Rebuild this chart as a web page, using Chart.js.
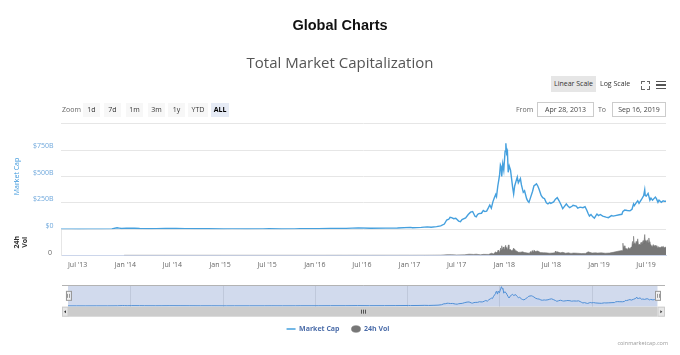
<!DOCTYPE html>
<html><head><meta charset="utf-8">
<script src="https://cdn.jsdelivr.net/npm/chart.js@4.4.1/dist/chart.umd.min.js"></script>
<style>
html,body{margin:0;padding:0;background:#fff;}
body{width:680px;height:355px;position:relative;overflow:hidden;font-family:"Open Sans",sans-serif;}
canvas{position:absolute;left:0;top:0;}
.abs{position:absolute;white-space:nowrap;}
#h1{left:0;width:680px;top:15px;text-align:center;font:bold 14.5px "Liberation Sans",Arial,sans-serif;color:#111;line-height:20px;}
#h2{left:0;width:680px;top:51px;text-align:center;font:15px "Open Sans",sans-serif;color:#555;line-height:22px;}
.btn{position:absolute;top:103px;height:14px;line-height:14px;font-size:7px;color:#333;background:#f7f7f7;text-align:center;}
.sel{background:#e6ebf5;font-weight:bold;color:#000;}
.lbl{position:absolute;top:103px;height:14px;line-height:14px;font-size:7px;color:#666;}
.inp{position:absolute;top:102px;height:13px;line-height:13px;font-size:7px;color:#444;border:1px solid #ccc;text-align:center;background:#fff;}
.cr{position:absolute;width:2.5px;height:2.5px;border-color:#666;border-style:solid;border-width:0;}
.hb{position:absolute;left:656px;width:10px;height:1.6px;background:#555;}
</style></head>
<body>
<canvas id="main" width="680" height="355"></canvas>
<canvas id="nav" width="680" height="355" style="pointer-events:none"></canvas>

<div class="abs" id="h1">Global Charts</div>
<div class="abs" id="h2">Total Market Capitalization</div>

<div class="abs" style="left:551px;top:76px;width:45px;height:16px;line-height:16px;background:#e6e6e6;font-size:7px;color:#333;text-align:center">Linear Scale</div>
<div class="abs" style="left:600px;top:76px;height:16px;line-height:16px;font-size:7px;color:#333">Log Scale</div>
<div class="cr" style="left:641px;top:80.5px;border-top-width:1px;border-left-width:1px"></div>
<div class="cr" style="left:646.5px;top:80.5px;border-top-width:1px;border-right-width:1px"></div>
<div class="cr" style="left:641px;top:86px;border-bottom-width:1px;border-left-width:1px"></div>
<div class="cr" style="left:646.5px;top:86px;border-bottom-width:1px;border-right-width:1px"></div>
<div class="hb" style="top:80.5px"></div>
<div class="hb" style="top:84px"></div>
<div class="hb" style="top:87.5px"></div>

<div class="lbl" style="left:62px">Zoom</div>
<div class="btn" style="left:83px;width:17px">1d</div>
<div class="btn" style="left:104px;width:17px">7d</div>
<div class="btn" style="left:126px;width:17px">1m</div>
<div class="btn" style="left:148px;width:17px">3m</div>
<div class="btn" style="left:168px;width:17px">1y</div>
<div class="btn" style="left:188px;width:20px">YTD</div>
<div class="btn sel" style="left:211px;width:18px">ALL</div>

<div class="lbl" style="left:516px">From</div>
<div class="inp" style="left:537px;width:55px">Apr 28, 2013</div>
<div class="lbl" style="left:598px">To</div>
<div class="inp" style="left:612px;width:52px">Sep 16, 2019</div>

<div class="abs" style="right:12px;top:339px;font-size:5.5px;color:#999;line-height:8px">coinmarketcap.com</div>

<script>
// ---------------- DATA ----------------
const rangeStart = '2013-04-28';
const rangeEnd = '2019-09-16';

// Total market capitalization, billions USD
const mcapDates = [
'2013-04-28','2013-06-01','2013-07-05','2013-08-20','2013-10-01','2013-11-10','2013-11-30','2013-12-08','2013-12-18',
'2014-01-05','2014-02-05','2014-02-25','2014-04-10','2014-05-01','2014-06-05','2014-07-15','2014-08-20','2014-10-05','2014-11-15',
'2015-01-14','2015-02-15','2015-04-15','2015-06-15','2015-07-10','2015-08-25','2015-10-15','2015-11-05','2015-12-15',
'2016-01-15','2016-03-01','2016-05-01','2016-06-17','2016-08-03','2016-10-01','2016-11-15',
'2017-01-04','2017-01-12','2017-02-15','2017-03-10','2017-03-25','2017-04-15','2017-05-01','2017-05-15','2017-05-24','2017-06-01',
'2017-06-06','2017-06-12','2017-06-20','2017-06-28','2017-07-09','2017-07-16','2017-07-22','2017-08-05','2017-08-15','2017-08-24',
'2017-09-01','2017-09-10','2017-09-15','2017-09-20','2017-09-25','2017-10-05','2017-10-12','2017-10-18','2017-10-25','2017-10-31',
'2017-11-06','2017-11-12','2017-11-18','2017-11-24','2017-11-29','2017-12-02','2017-12-07','2017-12-11','2017-12-14','2017-12-17',
'2017-12-20','2017-12-22','2017-12-26','2017-12-30',
'2018-01-04','2018-01-07','2018-01-10','2018-01-13','2018-01-16','2018-01-20','2018-01-25','2018-01-29','2018-02-02','2018-02-06',
'2018-02-10','2018-02-17','2018-02-20','2018-02-24','2018-03-04','2018-03-08','2018-03-15','2018-03-20','2018-03-28','2018-04-01',
'2018-04-06','2018-04-12','2018-04-20','2018-04-25','2018-05-05','2018-05-10','2018-05-15','2018-05-23','2018-05-29','2018-06-05',
'2018-06-12','2018-06-18','2018-06-25','2018-06-29','2018-07-10','2018-07-17','2018-07-24','2018-07-31','2018-08-08','2018-08-14',
'2018-08-20','2018-08-28','2018-09-05','2018-09-10','2018-09-20','2018-09-23','2018-10-05','2018-10-11','2018-10-20','2018-10-31',
'2018-11-08','2018-11-14','2018-11-20','2018-11-25','2018-12-01','2018-12-08','2018-12-14','2018-12-20','2018-12-24','2018-12-30',
'2019-01-06','2019-01-15','2019-01-28','2019-02-06','2019-02-18','2019-02-24','2019-03-05','2019-03-20','2019-03-30','2019-04-03',
'2019-04-10','2019-04-20','2019-04-30','2019-05-08','2019-05-14','2019-05-17','2019-05-24','2019-05-30','2019-06-04','2019-06-13',
'2019-06-22','2019-06-26','2019-06-28','2019-07-02','2019-07-09','2019-07-16','2019-07-20','2019-07-26','2019-08-06','2019-08-10',
'2019-08-16','2019-08-20','2019-08-29','2019-09-05','2019-09-10','2019-09-16'];
const mcapValues = [
1.6,1.3,0.9,1.3,1.6,4,14,11,7,
11.5,10,7,5.5,6.5,9,8,6.5,4.6,5.5,
2.6,3.6,3.4,3.6,4.6,3.5,4.2,6.5,6.8,
6.5,8.5,8.8,13.5,9.5,10.8,12.5,
18,14.5,18.5,23,19,25,32,50,88,95,
114,110,100,104,78,73,92,108,140,162,
168,124,118,140,148,152,178,168,172,200,
230,200,260,300,330,310,410,470,520,610,
590,500,620,560,
740,815,720,740,540,600,560,480,400,335,
410,470,495,440,480,420,350,365,290,270,
255,300,360,410,430,410,380,320,300,290,
250,240,255,245,260,285,300,270,230,195,
215,240,215,205,220,228,220,200,210,205,
215,185,150,125,140,118,105,130,145,130,
140,125,115,110,130,125,130,138,142,170,
182,178,175,190,240,225,250,270,245,280,
320,375,320,315,340,275,295,275,305,290,
255,275,255,270,265,265];

// 24h volume, billions USD
const volDates = [
'2013-12-27','2014-06-01','2015-01-01','2016-01-01','2016-06-17','2017-01-01','2017-03-01','2017-05-01','2017-05-25','2017-06-12',
'2017-07-01','2017-08-01','2017-08-18','2017-09-05','2017-09-15','2017-10-01','2017-10-13','2017-11-01','2017-11-13','2017-11-20',
'2017-11-29','2017-12-03','2017-12-06','2017-12-08','2017-12-10','2017-12-13','2017-12-15','2017-12-18','2017-12-20','2017-12-22',
'2017-12-24','2017-12-26','2017-12-28','2017-12-30',
'2018-01-02','2018-01-04','2018-01-06','2018-01-08','2018-01-09','2018-01-11','2018-01-13','2018-01-15','2018-01-17','2018-01-19',
'2018-01-20','2018-01-23','2018-01-25','2018-01-28','2018-01-30','2018-02-03','2018-02-06','2018-02-08','2018-02-10','2018-02-14',
'2018-02-18','2018-02-25','2018-03-05','2018-03-12','2018-03-20','2018-04-01','2018-04-08','2018-04-12','2018-04-15','2018-04-19',
'2018-04-22','2018-04-25','2018-05-01','2018-05-10','2018-05-20','2018-06-01','2018-06-10','2018-06-25','2018-07-05','2018-07-15',
'2018-07-17','2018-07-19','2018-07-24','2018-08-05','2018-08-14','2018-08-25','2018-09-05','2018-09-15','2018-09-25','2018-10-10',
'2018-10-25','2018-11-10','2018-11-20','2018-11-26','2018-12-05','2018-12-18','2018-12-27',
'2019-01-10','2019-01-25','2019-02-10','2019-02-24','2019-03-05','2019-03-20','2019-04-01','2019-04-03','2019-04-05','2019-04-08',
'2019-04-11','2019-04-15','2019-04-20','2019-04-25','2019-04-28','2019-05-02','2019-05-05','2019-05-08','2019-05-10','2019-05-12',
'2019-05-14','2019-05-16','2019-05-18','2019-05-21','2019-05-24','2019-05-27','2019-05-30','2019-06-02','2019-06-05','2019-06-08',
'2019-06-12','2019-06-15','2019-06-18','2019-06-20','2019-06-23','2019-06-26','2019-06-28','2019-07-01','2019-07-04','2019-07-08',
'2019-07-10','2019-07-12','2019-07-14','2019-07-16','2019-07-19','2019-07-22','2019-07-25','2019-07-29','2019-08-01','2019-08-05',
'2019-08-08','2019-08-12','2019-08-15','2019-08-20','2019-08-24','2019-08-28','2019-09-01','2019-09-05','2019-09-09','2019-09-12',
'2019-09-16'];
const volValues = [
0.1,0.03,0.02,0.05,0.2,0.3,0.4,1.0,3.5,3.8,
2,2.5,6.5,5,6.5,2.5,5.5,5,12,8,
20,14,22,30,27,18,24,42,32,55,
36,35,48,40,
32,52,58,44,40,46,35,48,60,40,
38,30,34,27,26,30,42,36,25,28,
24,17,18,20,16,13,12,22,16,28,
20,30,22,25,16,15,14,12,13,14,
24,15,20,14,17,12,14,11,13,12,
10,11,20,17,13,14,13,
14,12,13,17,20,25,28,70,42,55,
38,40,34,45,38,40,48,58,80,66,
110,72,70,62,80,68,95,60,65,58,
75,60,78,85,70,120,82,85,68,90,
72,100,78,72,62,55,50,62,52,58,
48,55,44,50,42,50,46,52,44,48,
45];

const xTickDates = ['2013-07-01','2014-01-01','2014-07-01','2015-01-01','2015-07-01','2016-01-01','2016-07-01',
                    '2017-01-01','2017-07-01','2018-01-01','2018-07-01','2019-01-01','2019-07-01'];
const xTickLabels = ["Jul '13","Jan '14","Jul '14","Jan '15","Jul '15","Jan '16","Jul '16",
                     "Jan '17","Jul '17","Jan '18","Jul '18","Jan '19","Jul '19"];
const capTickValues = [0, 250, 500, 750, 1000];
const capTickLabels = ['$0', '$250B', '$500B', '$750B', ''];
const volTickValues = [0];
const volTickLabels = ['0'];
const navYearDates = ['2014-01-01','2015-01-01','2016-01-01','2017-01-01','2018-01-01','2019-01-01'];
const navYearLabels = ['2014','2015','2016','2017','2018','2019'];

// ---------------- HELPERS ----------------
function toYear(s) {
  const d = Date.parse(s + 'T00:00:00Z');
  const y = new Date(d).getUTCFullYear();
  const a = Date.UTC(y, 0, 1), b = Date.UTC(y + 1, 0, 1);
  return y + (d - a) / (b - a);
}
function pts(dates, vals) { return dates.map((d, i) => ({ x: toYear(d), y: vals[i] })); }

const FONT = '"Open Sans", sans-serif';
const xMin = toYear(rangeStart), xMax = toYear(rangeEnd);

// ---------------- MAIN CHART ----------------
new Chart(document.getElementById('main'), {
  type: 'line',
  data: {
    datasets: [
      { label: 'Market Cap', data: pts(mcapDates, mcapValues), xAxisID: 'x', yAxisID: 'y',
        borderColor: '#45a0de', backgroundColor: '#45a0de', borderWidth: 1.4, pointRadius: 0,
        tension: 0, fill: false, pointStyle: 'line' },
      { label: '24h Vol', data: pts(volDates, volValues), xAxisID: 'x', yAxisID: 'yv',
        borderColor: '#777777', backgroundColor: '#777777', borderWidth: 0.6, pointRadius: 0,
        tension: 0, fill: 'origin', pointStyle: 'circle' }
    ]
  },
  options: {
    responsive: false, animation: false, devicePixelRatio: 1,
    layout: { padding: { left: 10, right: 14, top: 123.7, bottom: 12.5 } },
    plugins: {
      tooltip: { enabled: false },
      legend: {
        position: 'bottom',
        labels: { usePointStyle: true, pointStyleWidth: 9, boxHeight: 4.7, padding: 12,
                  color: '#4d6eaa', font: { family: FONT, size: 7, weight: 'bold' } }
      }
    },
    scales: {
      x: {
        type: 'linear', min: xMin, max: xMax,
        grid: { display: false, drawTicks: false },
        border: { display: true, color: '#ccd6eb' },
        ticks: { autoSkip: false, maxRotation: 0, padding: 5, color: '#666',
                 font: { family: FONT, size: 7 }, callback: (v, i) => xTickLabels[i] },
        afterBuildTicks: s => { s.ticks = xTickDates.map(d => ({ value: toYear(d) })); },
        afterFit: s => { s.height = 58.2; }
      },
      yv: {
        type: 'linear', position: 'left', stack: 'panes', stackWeight: 26, min: 0, max: 150,
        grid: { display: false, drawTicks: false },
        border: { display: true, color: '#e6e6e6' },
        ticks: { padding: 9, labelOffset: -2.6, color: '#666', font: { family: FONT, size: 7 },
                 callback: (v, i) => volTickLabels[i] },
        title: { display: true, text: ['24h', 'Vol'], color: '#333', font: { family: FONT, size: 7, weight: 'bold', lineHeight: 1.1 },
                 padding: { top: 3.6, bottom: 0 } },
        afterBuildTicks: s => { s.ticks = volTickValues.map(v => ({ value: v })); },
        afterFit: s => { s.width = 51; }
      },
      y: {
        type: 'linear', position: 'left', stack: 'panes', stackWeight: 105.6, min: 0, max: 1000,
        grid: { color: '#e6e6e6', drawTicks: false },
        border: { display: false },
        ticks: { padding: 7.5, labelOffset: -3.8, color: '#6fa8dc', font: { family: FONT, size: 7 },
                 callback: (v, i) => capTickLabels[i] },
        title: { display: true, text: 'Market Cap', color: '#3d98dc', font: { family: FONT, size: 7 },
                 padding: { top: 2.5, bottom: 0 } },
        afterBuildTicks: s => { s.ticks = capTickValues.map(v => ({ value: v })); },
        afterFit: s => { s.width = 51; }
      }
    }
  }
});

// ---------------- NAVIGATOR ----------------
const navDecor = {
  id: 'navDecor',
  beforeDatasetsDraw(chart) {
    const a = chart.chartArea, c = chart.ctx;
    c.save();
    c.fillStyle = 'rgba(102,133,194,0.3)';
    c.fillRect(a.left, a.top, a.right - a.left, a.bottom - a.top);
    c.restore();
  },
  afterDraw(chart) {
    const a = chart.chartArea, c = chart.ctx;
    c.save();
    c.strokeStyle = '#b3b3b3'; c.lineWidth = 1;
    c.beginPath(); c.moveTo(62, Math.round(a.top) + 0.5); c.lineTo(665, Math.round(a.top) + 0.5); c.stroke();
    const sy = a.bottom, sh = 10;
    c.fillStyle = '#cccccc'; c.fillRect(a.left, sy, a.right - a.left, sh);
    c.fillStyle = '#e6e6e6'; c.strokeStyle = '#cccccc';
    c.fillRect(62, sy, 6, sh); c.strokeRect(62.5, sy + 0.5, 5.5, sh - 1);
    c.fillRect(a.right, sy, 7, sh); c.strokeRect(a.right + 0.5, sy + 0.5, 6.5, sh - 1);
    c.fillStyle = '#333';
    c.beginPath(); c.moveTo(64, sy + 5); c.lineTo(66, sy + 3.5); c.lineTo(66, sy + 6.5); c.fill();
    c.beginPath(); c.moveTo(a.right + 4.8, sy + 5); c.lineTo(a.right + 2.8, sy + 3.5); c.lineTo(a.right + 2.8, sy + 6.5); c.fill();
    const gx = Math.round((a.left + a.right) / 2);
    c.strokeStyle = '#333'; c.lineWidth = 0.8;
    for (const dx of [-2, 0, 2]) { c.beginPath(); c.moveTo(gx + dx + 0.5, sy + 3); c.lineTo(gx + dx + 0.5, sy + 7); c.stroke(); }
    const hy = a.top + (a.bottom - a.top) / 2 - 5;
    for (const hx of [a.left, a.right]) {
      c.fillStyle = '#f2f2f2'; c.strokeStyle = '#999'; c.lineWidth = 1;
      c.fillRect(hx - 2.5, hy, 5, 10); c.strokeRect(Math.round(hx - 2.5) + 0.5, hy + 0.5, 5, 9);
      c.beginPath(); c.moveTo(Math.round(hx) - 0.5, hy + 3); c.lineTo(Math.round(hx) - 0.5, hy + 7);
      c.moveTo(Math.round(hx) + 1.5, hy + 3); c.lineTo(Math.round(hx) + 1.5, hy + 7); c.stroke();
    }
    c.restore();
  }
};

new Chart(document.getElementById('nav'), {
  type: 'line',
  data: {
    datasets: [
      { label: 'Navigator', data: pts(mcapDates, mcapValues), borderColor: '#4f8fd6',
        backgroundColor: 'rgba(79,143,214,0.06)', borderWidth: 1, pointRadius: 0, tension: 0, fill: 'origin' }
    ]
  },
  options: {
    responsive: false, animation: false, devicePixelRatio: 1,
    layout: { padding: { left: 68, right: 22.5, top: 285, bottom: 48.3 } },
    plugins: { legend: { display: false }, tooltip: { enabled: false } },
    scales: {
      x: {
        type: 'linear', min: xMin, max: xMax,
        grid: { display: true, drawTicks: false, color: '#e6e6e6' },
        border: { display: false },
        ticks: { autoSkip: false, maxRotation: 0, align: 'start', labelOffset: 2, padding: -6.9,
                 color: '#999', font: { family: FONT, size: 7 }, callback: (v, i) => navYearLabels[i] },
        afterBuildTicks: s => { s.ticks = navYearDates.map(d => ({ value: toYear(d) })); },
        afterFit: s => { s.height = 0; }
      },
      y: { display: false, min: -34, max: 887 }
    }
  },
  plugins: [navDecor]
});
</script>
</body></html>
